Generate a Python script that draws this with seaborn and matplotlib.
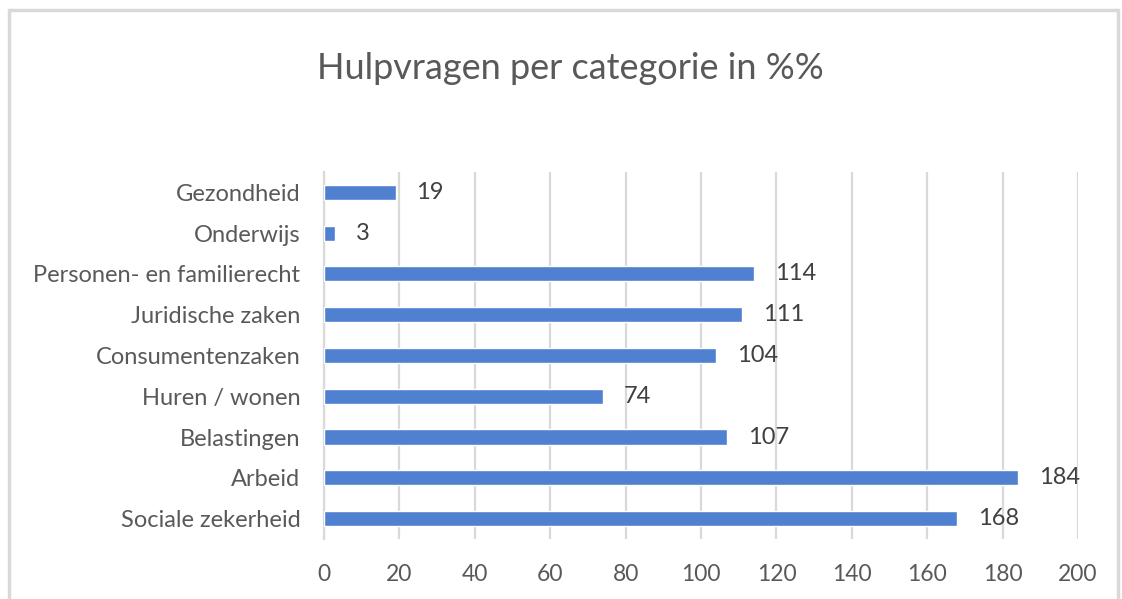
import matplotlib
matplotlib.use('Agg')
import matplotlib.pyplot as plt
import seaborn as sns
import pandas as pd
from matplotlib.lines import Line2D

# data (top to bottom)
categories = ['Gezondheid', 'Onderwijs', 'Personen- en familierecht', 'Juridische zaken',
              'Consumentenzaken', 'Huren / wonen', 'Belastingen', 'Arbeid', 'Sociale zekerheid']
values = [19, 3, 114, 111, 104, 74, 107, 184, 168]
x_ticks = [0, 20, 40, 60, 80, 100, 120, 140, 160, 180, 200]

df = pd.DataFrame({'categorie': categories, 'aantal': values})

sns.set_style('white')
plt.rcParams['font.family'] = ['Lato', 'DejaVu Sans']
text_col = '#595959'

fig = plt.figure(figsize=(11.22, 5.99), dpi=100)
ax = fig.add_axes([0.2888, 0.1002, 0.672, 0.6127])

sns.barplot(data=df, x='aantal', y='categorie', color='#4F81D0', width=0.37,
            saturation=1, ax=ax, zorder=3)

for i, v in enumerate(values):
    ax.annotate(str(v), (v, i), xytext=(15, 0), textcoords='offset points',
                ha='left', va='center', fontsize=17, color='#404040')

ax.set_xlim(0, 200)
ax.set_xticks(x_ticks)
ax.xaxis.grid(True, color='#d9d9d9', linewidth=1.6, zorder=0)
ax.yaxis.grid(False)
ax.set_xlabel('')
ax.set_ylabel('')
ax.tick_params(axis='both', length=0, labelcolor=text_col)
ax.tick_params(axis='y', pad=17, labelsize=17)
ax.tick_params(axis='x', pad=18, labelsize=16.5)
for s in ['top', 'right', 'bottom']:
    ax.spines[s].set_visible(False)
ax.spines['left'].set_color('#d9d9d9')
ax.spines['left'].set_linewidth(1.6)

fig.text(0.508, 0.886, 'Hulpvragen per categorie in %%', ha='center', va='center',
         fontsize=26, color=text_col)

# light chart border
bc = '#d9d9d9'
fig.add_artist(Line2D([9 / 1122, 9 / 1122], [0, 1 - 10 / 599], color=bc, lw=2.5))
fig.add_artist(Line2D([9 / 1122, 1118 / 1122], [1 - 10 / 599, 1 - 10 / 599], color=bc, lw=2.5))
fig.add_artist(Line2D([1118 / 1122, 1118 / 1122], [0, 1 - 10 / 599], color=bc, lw=2.5))

fig.savefig('out.png', dpi=100, facecolor='white')
